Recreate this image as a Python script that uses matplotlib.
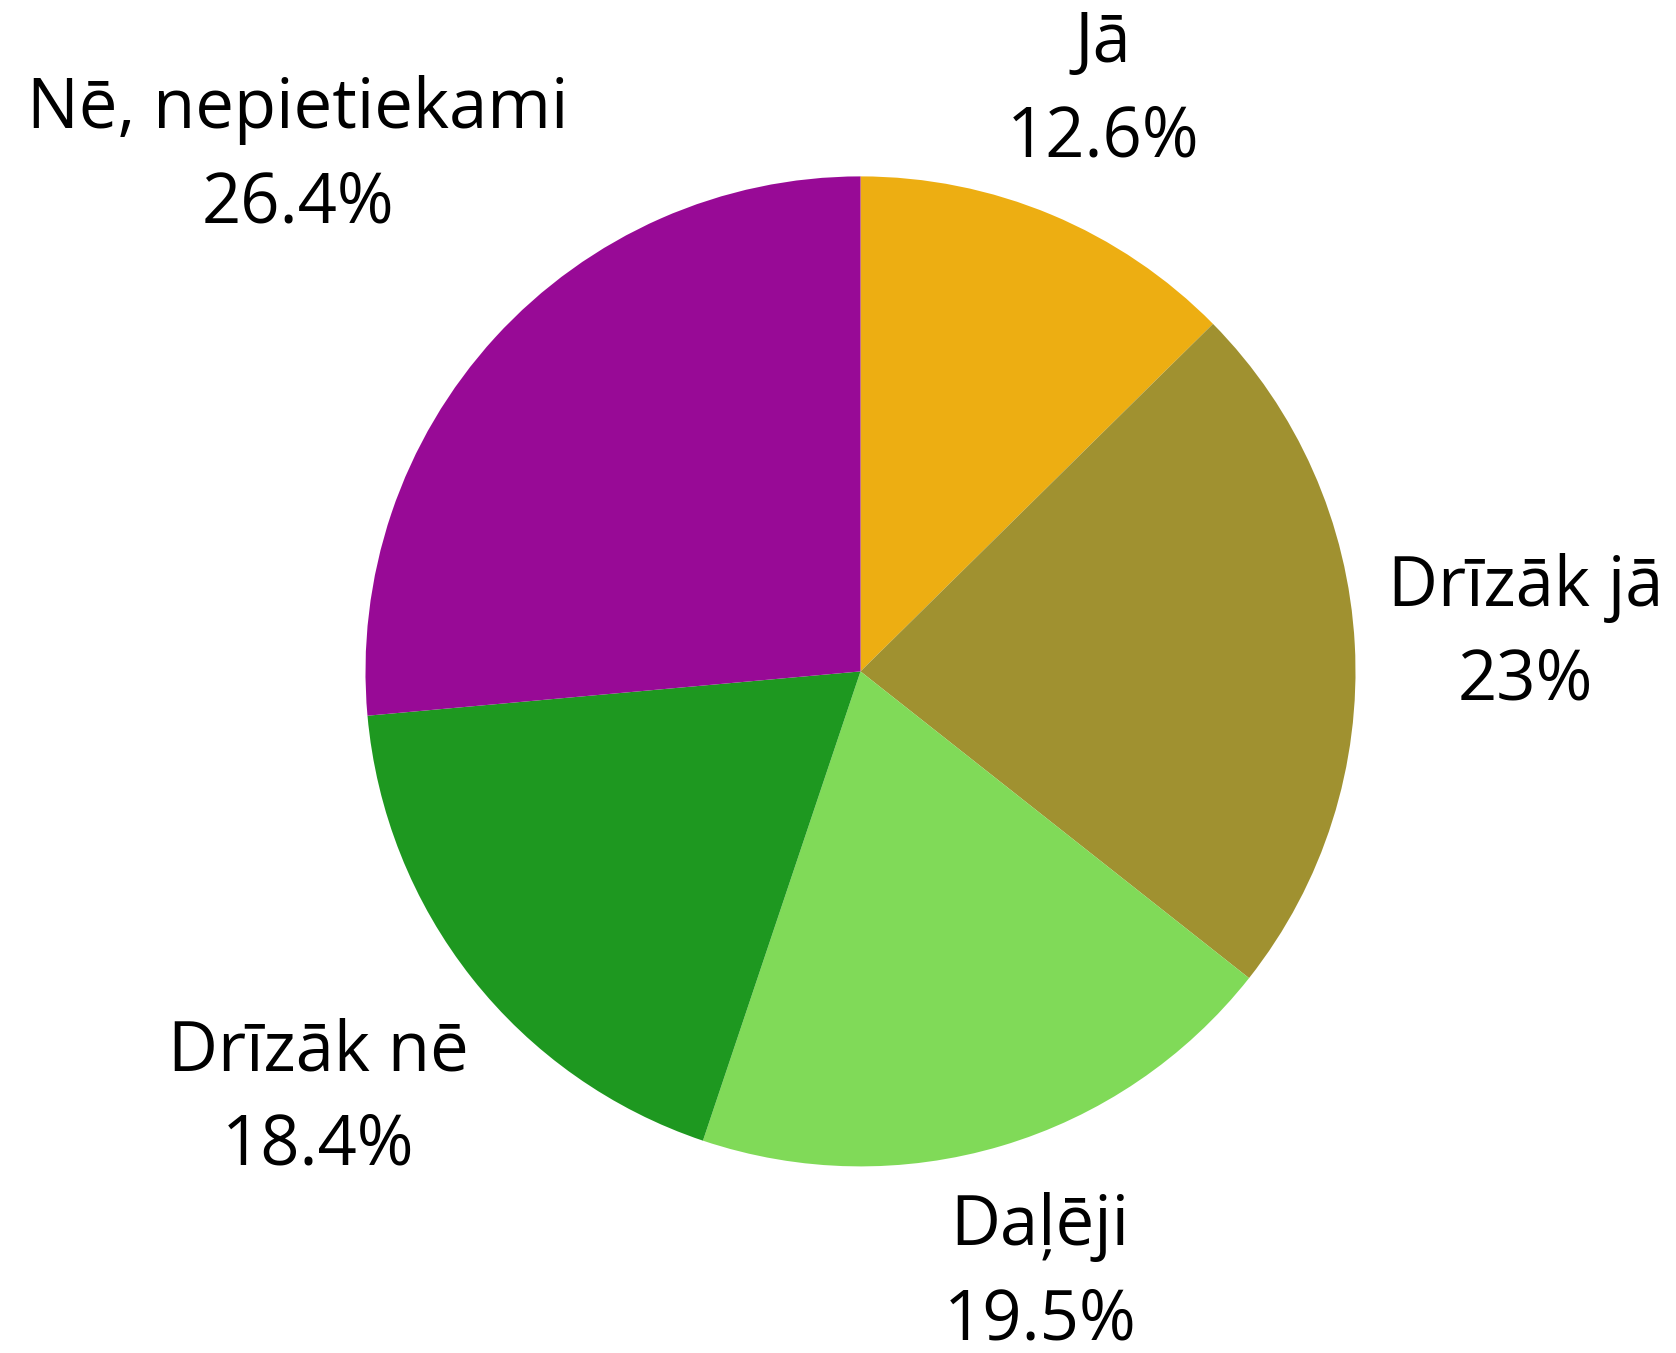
import numpy as np
import matplotlib.pyplot as plt

plt.rcParams['font.family'] = ['Open Sans', 'DejaVu Sans']

# data
labels = ['Jā', 'Drīzāk jā', 'Daļēji', 'Drīzāk nē', 'Nē, nepietiekami']
pct_text = ['12.6%', '23%', '19.5%', '18.4%', '26.4%']
values = [12.6, 23.0, 19.5, 18.4, 26.4]
colors = ['#EDAE12', '#A09130', '#80DA58', '#1E9820', '#980A96']

# how far out each label sits (in pie radii)
label_dist = [1.27, 1.345, 1.27, 1.396, 1.54]

W, H = 1676, 1353
fig = plt.figure(figsize=(W / 100, H / 100), dpi=100)
ax = fig.add_axes([0, 0, 1, 1])

wedges, _ = ax.pie(values, colors=colors, startangle=90, counterclock=False,
                   radius=1.0, wedgeprops=dict(linewidth=0))

# put the labels outside, centred on the wedge bisector
for w, lab, pct, d in zip(wedges, labels, pct_text, label_dist):
    ang = np.deg2rad((w.theta1 + w.theta2) / 2)
    ax.text(d * np.cos(ang), d * np.sin(ang), lab + '\n' + pct,
            ha='center', va='center', fontsize=49.5, linespacing=1.46)

cx, cy, r = 860.5, 681.6, 495.0
ax.set_xlim(-cx / r, (W - cx) / r)
ax.set_ylim(-cy / r, (H - cy) / r)
ax.set_aspect('equal')
ax.axis('off')

fig.savefig('out.png', dpi=100, facecolor='white')
